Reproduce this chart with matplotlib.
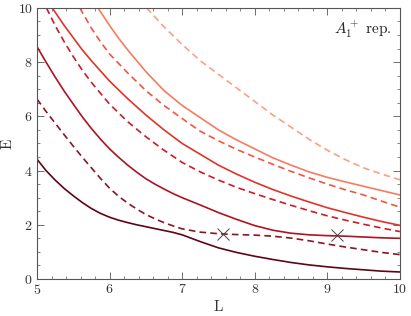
import matplotlib
matplotlib.use("Agg")
import matplotlib.pyplot as plt
from matplotlib.ticker import MultipleLocator

plt.rcParams["font.family"] = "serif"
plt.rcParams["font.serif"] = ["cmr10", "DejaVu Serif"]
plt.rcParams["mathtext.fontset"] = "cm"
plt.rcParams["axes.formatter.use_mathtext"] = True

# levels, lowest to highest
L1 = [5, 5.125, 5.25, 5.375, 5.5, 5.625, 5.75, 5.875, 6, 6.125, 6.25, 6.375, 6.5, 6.625, 6.75, 6.875, 7,
      7.25, 7.5, 7.75, 8, 8.25, 8.5, 8.75, 9, 9.25, 9.5, 9.75, 10]
E1 = [4.42, 4.0, 3.65, 3.34, 3.07, 2.82, 2.6, 2.42, 2.28, 2.17, 2.08, 2.0, 1.93, 1.86, 1.79, 1.72, 1.63,
      1.38, 1.15, 0.98, 0.84, 0.72, 0.61, 0.52, 0.45, 0.39, 0.34, 0.29, 0.26]
E2 = [6.64, 6.18, 5.75, 5.32, 4.9, 4.49, 4.1, 3.71, 3.35, 3.05, 2.8, 2.58, 2.38, 2.22, 2.08, 1.96, 1.85,
      1.73, 1.67, 1.64, 1.62, 1.58, 1.51, 1.41, 1.29, 1.18, 1.08, 0.98, 0.9]
E3 = [8.57, 8.0, 7.45, 6.93, 6.45, 5.98, 5.55, 5.16, 4.8, 4.49, 4.2, 3.94, 3.7, 3.5, 3.32, 3.15, 3.0,
      2.73, 2.45, 2.2, 1.97, 1.8, 1.69, 1.63, 1.6, 1.58, 1.55, 1.52, 1.5]

L4 = [5.13, 5.25, 5.375, 5.5, 5.625, 5.75, 6, 6.25, 6.5, 6.75, 7, 7.25, 7.5, 7.75, 8, 8.25, 8.5, 8.75, 9, 9.25, 9.5, 9.75, 10]
E4 = [10, 9.35, 8.75, 8.2, 7.7, 7.25, 6.45, 5.8, 5.25, 4.75, 4.3, 3.95, 3.65, 3.38, 3.15, 2.93, 2.72, 2.52, 2.33, 2.17, 2.02, 1.88, 1.75]

L5 = [5.21, 5.375, 5.5, 5.625, 5.75, 6, 6.25, 6.5, 6.75, 7, 7.25, 7.5, 7.75, 8, 8.25, 8.5, 8.75, 9, 9.25, 9.5, 9.75, 10]
E5 = [10, 9.35, 8.9, 8.45, 8.05, 7.3, 6.65, 6.05, 5.5, 5.0, 4.6, 4.2, 3.87, 3.57, 3.3, 3.06, 2.84, 2.63, 2.45, 2.28, 2.12, 1.98]

L6 = [5.59, 5.75, 5.875, 6, 6.25, 6.5, 6.75, 7, 7.25, 7.5, 7.75, 8, 8.25, 8.5, 8.75, 9, 9.25, 9.5, 9.75, 10]
E6 = [10, 9.25, 8.75, 8.3, 7.6, 6.95, 6.4, 5.92, 5.45, 5.1, 4.78, 4.5, 4.23, 3.97, 3.73, 3.5, 3.29, 3.1, 2.87, 2.65]

L7 = [5.84, 6, 6.125, 6.25, 6.5, 6.75, 7, 7.25, 7.5, 7.75, 8, 8.25, 8.5, 8.75, 9, 9.25, 9.5, 9.75, 10]
E7 = [10, 9.35, 8.88, 8.45, 7.65, 6.95, 6.4, 5.95, 5.5, 5.13, 4.8, 4.47, 4.2, 3.95, 3.75, 3.58, 3.42, 3.26, 3.1]

L8 = [6.51, 6.75, 7, 7.25, 7.5, 7.75, 8, 8.25, 8.5, 8.75, 9, 9.25, 9.5, 9.75, 10]
E8 = [10, 9.3, 8.65, 8.05, 7.55, 7.05, 6.55, 6.05, 5.6, 5.15, 4.75, 4.4, 4.1, 3.87, 3.66]

# crossings marked with x
cross_L = [7.56, 9.13]
cross_E = [1.65, 1.61]

curves = [
    (L1, E1, "#5e0514", "-"),
    (L1, E2, "#8c1322", "--"),
    (L1, E3, "#b0121f", "-"),
    (L4, E4, "#cc1b27", "--"),
    (L5, E5, "#e23328", "-"),
    (L6, E6, "#f2553f", "--"),
    (L7, E7, "#f97a5c", "-"),
    (L8, E8, "#fca083", "--"),
]

fig = plt.figure(figsize=(4.11, 3.16), dpi=100)
ax = fig.add_axes([0.09, 0.117, 0.883, 0.858])

for x, y, c, ls in curves:
    if ls == "--":
        ax.plot(x, y, color=c, lw=1.2, ls=ls, dashes=(4, 2.5))
    else:
        ax.plot(x, y, color=c, lw=1.2, ls=ls)

ax.plot(cross_L, cross_E, ls="none", marker="x", ms=9, mew=0.7, color="#444444")

ax.set_xlim(5, 10)
ax.set_ylim(0, 10)
ax.xaxis.set_major_locator(MultipleLocator(1))
ax.xaxis.set_minor_locator(MultipleLocator(0.2))
ax.yaxis.set_major_locator(MultipleLocator(2))
ax.yaxis.set_minor_locator(MultipleLocator(0.5))
ax.tick_params(which="both", direction="in", top=True, right=True,
               color="#555555", labelcolor="#333333", labelsize=10, pad=3)
ax.tick_params(which="major", length=5, width=0.6)
ax.tick_params(which="minor", length=2.5, width=0.5)
for s in ax.spines.values():
    s.set_color("#555555")
    s.set_linewidth(0.8)

ax.set_xlabel("L", fontsize=11, color="#333333", labelpad=2)
ax.set_ylabel("E", fontsize=11, color="#333333", labelpad=2)
ax.text(0.978, 0.92, r"$A_1^+$ rep.", transform=ax.transAxes, ha="right", va="center",
        fontsize=11, color="#222222")

plt.savefig("out.png", dpi=100)
